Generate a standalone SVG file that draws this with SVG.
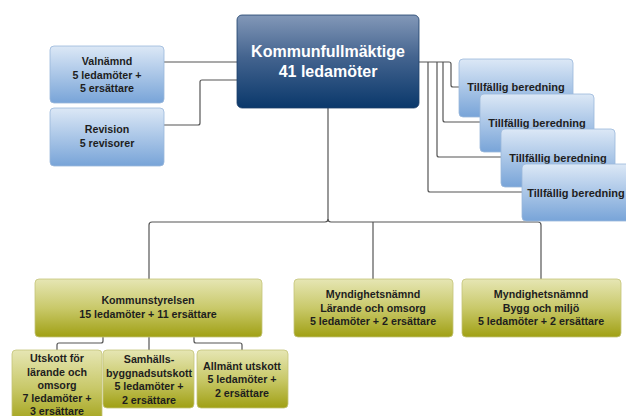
<svg xmlns="http://www.w3.org/2000/svg" width="626" height="416" viewBox="0 0 626 416">
<defs>
<linearGradient id="gMain" x1="0" y1="0" x2="0" y2="1">
<stop offset="0" stop-color="#8398b8"/>
<stop offset="0.45" stop-color="#44648f"/>
<stop offset="1" stop-color="#0a386b"/>
</linearGradient>
<linearGradient id="gBlue" x1="0" y1="0" x2="0" y2="1">
<stop offset="0" stop-color="#dce8f6"/>
<stop offset="1" stop-color="#78a4d8"/>
</linearGradient>
<linearGradient id="gOlive" x1="0" y1="0" x2="0" y2="1">
<stop offset="0" stop-color="#e6e6b4"/>
<stop offset="0.5" stop-color="#c9c96a"/>
<stop offset="1" stop-color="#a0a014"/>
</linearGradient>
</defs>
<style>
.main{fill:url(#gMain);stroke:#1d3f6b;stroke-width:0.8}
.blue{fill:url(#gBlue);stroke:#9bb8da;stroke-width:0.8}
.olive{fill:url(#gOlive);stroke:#c4c47a;stroke-width:0.8}
.t{font-family:"Liberation Sans",Arial,sans-serif;font-weight:bold;font-size:10.7px;fill:#1e1e1e;text-anchor:middle}
.tw{font-family:"Liberation Sans",Arial,sans-serif;font-weight:bold;font-size:16px;fill:#ffffff;text-anchor:middle}
.c{fill:none;stroke:#555555;stroke-width:1.2;stroke-linejoin:round}
</style>
<rect width="626" height="416" fill="#ffffff"/>
<g id="connectors">
<path class="c" d="M164 62 H237"/>
<path class="c" d="M164 125 H198 Q200 125 200 123 V82 Q200 80 202 80 H237"/>
<path class="c" d="M419 62 H449 Q451 62 451 64 V85 Q451 87 453 87 H459"/>
<path class="c" d="M443 62 V120 Q443 122 445 122 H480"/>
<path class="c" d="M437 62 V155 Q437 157 439 157 H501"/>
<path class="c" d="M428 62 V190 Q428 192 430 192 H522"/>
<path class="c" d="M328 108 V219 Q328 222 325 222 H152 Q149 222 149 225 V279"/>
<path class="c" d="M328 219 Q328 222 331 222 H538 Q541 222 541 225 V279"/>
<path class="c" d="M373 222 V279"/>
<path class="c" d="M103 337 V341 Q103 343 101 343 H59 Q57 343 57 345 V350"/>
<path class="c" d="M149 337 V350"/>
<path class="c" d="M194 337 V341 Q194 343 196 343 H240 Q242 343 242 345 V350"/>
</g>
<g id="kommunfullmaktige">
<rect class="main" x="237" y="15" width="182" height="93" rx="5"/>
<text class="tw" x="328" y="57">Kommunfullmäktige</text>
<text class="tw" x="328" y="77">41 ledamöter</text>
</g>
<g id="valnamnd">
<rect class="blue" x="50" y="46" width="114" height="57" rx="4"/>
<text class="t" x="107" y="65">Valnämnd</text>
<text class="t" x="107" y="79">5 ledamöter +</text>
<text class="t" x="107" y="92">5 ersättare</text>
</g>
<g id="revision">
<rect class="blue" x="50" y="108" width="114" height="58" rx="4"/>
<text class="t" x="107" y="133">Revision</text>
<text class="t" x="107" y="147">5 revisorer</text>
</g>
<g id="beredning1">
<rect class="blue" x="459" y="59" width="114" height="58" rx="4"/>
<text class="t" x="516" y="91" style="font-size:11px">Tillfällig beredning</text>
</g>
<g id="beredning2">
<rect class="blue" x="480" y="94" width="114" height="58" rx="4"/>
<text class="t" x="537" y="127" style="font-size:11px">Tillfällig beredning</text>
</g>
<g id="beredning3">
<rect class="blue" x="501" y="129" width="114" height="58" rx="4"/>
<text class="t" x="558" y="162" style="font-size:11px">Tillfällig beredning</text>
</g>
<g id="beredning4">
<rect class="blue" x="522" y="164" width="114" height="57" rx="4"/>
<text class="t" x="576" y="197" style="font-size:11px">Tillfällig beredning</text>
</g>
<g id="kommunstyrelsen">
<rect class="olive" x="35" y="279" width="227" height="58" rx="4"/>
<text class="t" x="148" y="304">Kommunstyrelsen</text>
<text class="t" x="148" y="318">15 ledamöter + 11 ersättare</text>
</g>
<g id="myndighet1">
<rect class="olive" x="294" y="279" width="159" height="58" rx="4"/>
<text class="t" x="373" y="298">Myndighetsnämnd</text>
<text class="t" x="373" y="312">Lärande och omsorg</text>
<text class="t" x="373" y="325">5 ledamöter + 2 ersättare</text>
</g>
<g id="myndighet2">
<rect class="olive" x="462" y="279" width="159" height="58" rx="4"/>
<text class="t" x="541" y="298">Myndighetsnämnd</text>
<text class="t" x="541" y="312">Bygg och miljö</text>
<text class="t" x="541" y="325">5 ledamöter + 2 ersättare</text>
</g>
<g id="utskott">
<rect class="olive" x="12" y="350" width="90" height="75" rx="4"/>
<text class="t" x="57" y="362">Utskott för</text>
<text class="t" x="57" y="375.5">lärande och</text>
<text class="t" x="57" y="389">omsorg</text>
<text class="t" x="57" y="402">7 ledamöter +</text>
<text class="t" x="57" y="415">3 ersättare</text>
</g>
<g id="samhalls">
<rect class="olive" x="103" y="350" width="91" height="58" rx="4"/>
<text class="t" x="149" y="363">Samhälls-</text>
<text class="t" x="149" y="377">byggnadsutskott</text>
<text class="t" x="149" y="390">5 ledamöter +</text>
<text class="t" x="149" y="404">2 ersättare</text>
</g>
<g id="allmant">
<rect class="olive" x="197" y="350" width="91" height="58" rx="4"/>
<text class="t" x="242" y="370">Allmänt utskott</text>
<text class="t" x="242" y="383">5 ledamöter +</text>
<text class="t" x="242" y="397">2 ersättare</text>
</g>
</svg>
